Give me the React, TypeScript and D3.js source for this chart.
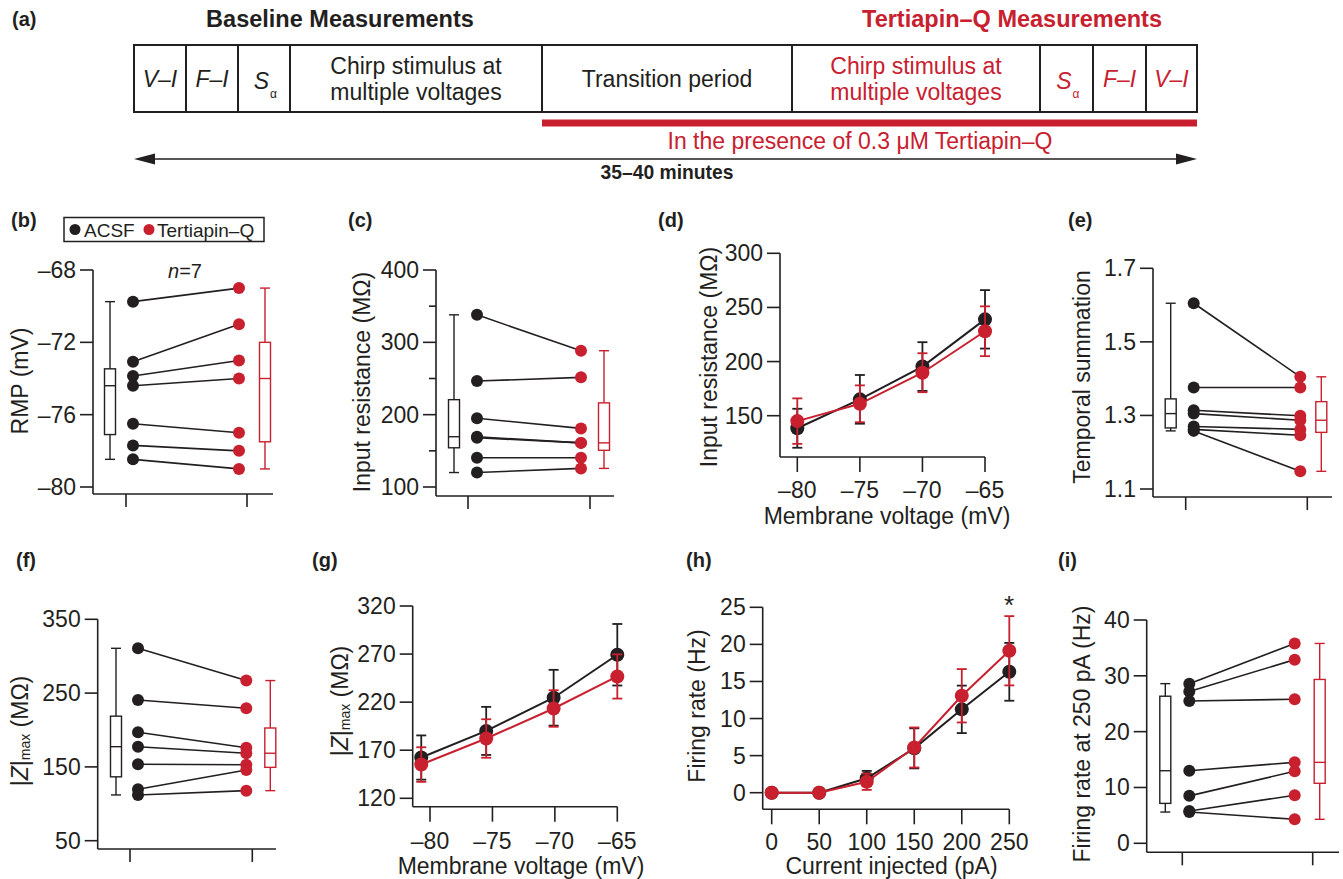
import React from 'react';
import * as d3 from 'd3';

const INK = '#231f20';
const RED = '#c8202f';
const FONT = '"Liberation Sans", Arial, Helvetica, sans-serif';

// ---------- (a) protocol ----------
const protocolSteps = ['V–I', 'F–I', 'S_α', 'Chirp stimulus at|multiple voltages', 'Transition period', 'Chirp stimulus at|multiple voltages', 'S_α', 'F–I', 'V–I'];
const drugStepStart = 5;

// ---------- paired data (7 cells) ----------
const rmpAcsf = [-69.75, -73.07, -73.86, -74.4, -76.5, -77.7, -78.47];
const rmpTq = [-69.0, -71.0, -73.0, -74.0, -77.0, -78.0, -79.0];
const rinAcsf = [338, 246.5, 195, 169.5, 168, 140.4, 120];
const rinTq = [288.4, 251.6, 181, 161, 161, 140.4, 125.7];
const tsAcsf = [1.605, 1.376, 1.314, 1.305, 1.27, 1.262, 1.258];
const tsTq = [1.405, 1.376, 1.299, 1.287, 1.262, 1.246, 1.148];
const zmaxAcsf = [310.7, 240.6, 196.9, 177.4, 153.5, 119.6, 112];
const zmaxTq = [267, 229.4, 176, 168.5, 153, 145.8, 117.8];
const fr250Acsf = [28.6, 27.2, 25.5, 13.0, 8.5, 5.8, 5.6];
const fr250Tq = [35.8, 32.9, 25.8, 14.5, 12.9, 8.6, 4.3];

// ---------- mean +/- sem data ----------
const vSteps = [-80, -75, -70, -65];
const rinVAcsfMean = [138.4, 165.1, 195.4, 239];
const rinVAcsfSem = [18, 22.5, 22.5, 27];
const rinVTqMean = [145, 161, 189.7, 228];
const rinVTqSem = [21, 17, 18, 23];

const zmaxV = [-80.7, -75.5, -70.1, -65];
const zmaxVAcsfMean = [162.4, 190.1, 224.6, 269.3];
const zmaxVAcsfSem = [23, 25, 29, 32];
const zmaxVTqMean = [155.1, 182.2, 213.4, 246.7];
const zmaxVTqSem = [18, 20, 19, 23];

const currentSteps = [0, 50, 100, 150, 200, 250];
const fiAcsfMean = [0, 0, 1.94, 5.98, 11.24, 16.3];
const fiAcsfSem = [0, 0, 1.0, 2.7, 3.2, 3.9];
const fiTqMean = [0, 0, 1.48, 6.1, 13.07, 19.14];
const fiTqSem = [0, 0, 1.1, 2.7, 3.6, 4.67];

const conditions = ['ACSF', 'Tertiapin–Q'];

// tick values
const rmpTicks = [-80, -76, -72, -68];
const rinTicks = [100, 200, 300, 400];
const rinMinor = [150, 250, 350];
const tsTicks = [1.1, 1.3, 1.5, 1.7];
const zmaxTicks = [50, 150, 250, 350];
const fr250Ticks = [0, 10, 20, 30, 40];
const rinVTicks = [150, 200, 250, 300];
const zmaxVTicks = [120, 170, 220, 270, 320];
const fiTicks = [0, 5, 10, 15, 20, 25];

const FS = 23;
const dash = (v: number) => String(v).replace('-', '–');
const fix1 = (v: number) => v.toFixed(1);

function boxStats(v: number[]) {
  const s = [...v].sort(d3.ascending);
  return {
    min: s[0],
    q1: d3.quantile(s, 0.25) as number,
    med: d3.quantile(s, 0.5) as number,
    q3: d3.quantile(s, 0.75) as number,
    max: s[s.length - 1],
  };
}

function BoxPlot({ values, cx, y, color }: any) {
  const st = boxStats(values);
  return (
    <g stroke={color} strokeWidth={1.4}>
      <line x1={cx} x2={cx} y1={y(st.max)} y2={y(st.min)} />
      <line x1={cx - 5} x2={cx + 5} y1={y(st.max)} y2={y(st.max)} />
      <line x1={cx - 5} x2={cx + 5} y1={y(st.min)} y2={y(st.min)} />
      <rect x={cx - 5.5} width={11} y={y(st.q3)} height={y(st.q1) - y(st.q3)} fill="white" />
      <line x1={cx - 5.5} x2={cx + 5.5} y1={y(st.med)} y2={y(st.med)} />
    </g>
  );
}

function YLabel({ x, y, children }: any) {
  return (
    <text transform={`translate(${x},${y}) rotate(-90)`} textAnchor="middle" dominantBaseline="central" fontSize={FS} fill={INK}>
      {children}
    </text>
  );
}

function YAxis({ y, x, top, bottom, ticks, minor = [], fmt }: any) {
  return (
    <g>
      <line x1={x} x2={x} y1={top} y2={bottom} stroke={INK} strokeWidth={1.6} />
      {ticks.map((t: number) => (
        <g key={t}>
          <line x1={x - 13} x2={x} y1={y(t)} y2={y(t)} stroke={INK} strokeWidth={1.6} />
          <text x={x - 17} y={y(t)} textAnchor="end" dominantBaseline="central" fontSize={FS} fill={INK}>{fmt(t)}</text>
        </g>
      ))}
      {minor.map((t: number) => (
        <line key={'m' + t} x1={x - 7} x2={x} y1={y(t)} y2={y(t)} stroke={INK} strokeWidth={1.6} />
      ))}
    </g>
  );
}

function PairedPanel(p: any) {
  const y = d3.scaleLinear().domain(p.yDomain).range(p.yRange);
  const x = d3.scalePoint<string>().domain(conditions).range(p.catX);
  const x0 = x(conditions[0]) as number;
  const x1 = x(conditions[1]) as number;
  const [bOff, dOff, rdOff, rbOff] = p.offs;
  return (
    <g>
      <YAxis y={y} x={p.axisX} top={y(p.ticks[p.ticks.length - 1])} bottom={p.axisBottom} ticks={p.ticks} minor={p.minor} fmt={p.fmt} />
      <line x1={p.axisX} x2={p.axisRight} y1={p.axisBottom} y2={p.axisBottom} stroke={INK} strokeWidth={1.6} />
      {[x0, x1].map((cx, i) => (
        <line key={i} x1={cx} x2={cx} y1={p.axisBottom} y2={p.axisBottom + 13} stroke={INK} strokeWidth={1.6} />
      ))}
      <BoxPlot values={p.acsf} cx={x0 + bOff} y={y} color={INK} />
      <BoxPlot values={p.tq} cx={x1 + rbOff} y={y} color={RED} />
      {p.acsf.map((v: number, i: number) => (
        <line key={'l' + i} x1={x0 + dOff} x2={x1 + rdOff} y1={y(v)} y2={y(p.tq[i])} stroke={INK} strokeWidth={1.6} />
      ))}
      {p.acsf.map((v: number, i: number) => (
        <circle key={'a' + i} cx={x0 + dOff} cy={y(v)} r={6} fill={INK} />
      ))}
      {p.tq.map((v: number, i: number) => (
        <circle key={'t' + i} cx={x1 + rdOff} cy={y(v)} r={6} fill={RED} />
      ))}
      <YLabel x={p.labelPos[0]} y={p.labelPos[1]}>{p.label}</YLabel>
    </g>
  );
}

function LinePanel(p: any) {
  const y = d3.scaleLinear().domain(p.yDomain).range(p.yRange);
  const x = d3.scaleLinear().domain(p.xDomain).range(p.xRange);
  const line = d3.line<number>().x((_, i) => x(p.xs[i])).y((d) => y(d));
  return (
    <g>
      <YAxis y={y} x={p.axisX} top={y(p.yTicks[p.yTicks.length - 1])} bottom={p.axisBottom} ticks={p.yTicks} fmt={String} />
      <line x1={p.axisX} x2={x(p.xTicks[p.xTicks.length - 1])} y1={p.axisBottom} y2={p.axisBottom} stroke={INK} strokeWidth={1.6} />
      {p.xTicks.map((t: number) => (
        <g key={t}>
          <line x1={x(t)} x2={x(t)} y1={p.axisBottom} y2={p.axisBottom + 15} stroke={INK} strokeWidth={1.6} />
          <text x={x(t)} y={p.tickLabelY} textAnchor="middle" fontSize={FS} fill={INK}>{dash(t)}</text>
        </g>
      ))}
      <text x={p.xLabelPos[0]} y={p.xLabelPos[1]} textAnchor="middle" fontSize={FS} fill={INK}>{p.xLabel}</text>
      {p.series.map((s: any, si: number) => (
        <g key={si}>
          <path d={line(s.mean) as string} fill="none" stroke={s.color} strokeWidth={2} />
          {s.mean.map((m: number, i: number) =>
            s.sem[i] > 0 ? (
              <g key={i} stroke={s.color} strokeWidth={1.8}>
                <line x1={x(p.xs[i])} x2={x(p.xs[i])} y1={y(m + s.sem[i])} y2={y(m - s.sem[i])} />
                <line x1={x(p.xs[i]) - 5} x2={x(p.xs[i]) + 5} y1={y(m + s.sem[i])} y2={y(m + s.sem[i])} />
                <line x1={x(p.xs[i]) - 5} x2={x(p.xs[i]) + 5} y1={y(m - s.sem[i])} y2={y(m - s.sem[i])} />
              </g>
            ) : null
          )}
          {s.mean.map((m: number, i: number) => (
            <circle key={'c' + i} cx={x(p.xs[i])} cy={y(m)} r={7} fill={s.color} />
          ))}
        </g>
      ))}
      <YLabel x={p.labelPos[0]} y={p.labelPos[1]}>{p.yLabel}</YLabel>
    </g>
  );
}

const zLabel = (
  <>
    |<tspan fontStyle="italic">Z</tspan>|<tspan fontSize={14} dy={5}>max</tspan>
    <tspan dy={-5}> (MΩ)</tspan>
  </>
);

function ProtocolPanel() {
  const edges = [134, 186, 238, 290, 542, 792, 1040, 1093, 1146, 1197];
  const top = 45;
  const bottom = 112;
  return (
    <g>
      <text x={12} y={26} fontSize={20} fontWeight="bold" fill={INK}>(a)</text>
      <text x={340} y={27} fontSize={23.5} fontWeight="bold" textAnchor="middle" fill={INK}>Baseline Measurements</text>
      <text x={1012} y={27} fontSize={23.5} fontWeight="bold" textAnchor="middle" fill={RED}>Tertiapin–Q Measurements</text>
      <rect x={edges[0]} y={top} width={edges[edges.length - 1] - edges[0]} height={bottom - top} fill="none" stroke={INK} strokeWidth={2} />
      {edges.slice(1, -1).map((e) => (
        <line key={e} x1={e} x2={e} y1={top} y2={bottom} stroke={INK} strokeWidth={2} />
      ))}
      {protocolSteps.map((s, i) => {
        const cx = (edges[i] + edges[i + 1]) / 2;
        const color = i >= drugStepStart ? RED : INK;
        if (s === 'S_α') {
          return (
            <g key={i} fill={color}>
              <text x={cx - 2.5} y={89} fontSize={FS} fontStyle="italic" textAnchor="middle">S</text>
              <text x={cx + 9.5} y={98} fontSize={12} textAnchor="middle">α</text>
            </g>
          );
        }
        if (s.includes('|')) {
          const [l1, l2] = s.split('|');
          return (
            <g key={i} fill={color} fontSize={FS}>
              <text x={cx} y={74} textAnchor="middle">{l1}</text>
              <text x={cx} y={100} textAnchor="middle">{l2}</text>
            </g>
          );
        }
        const italic = s.includes('–');
        return (
          <text key={i} x={cx} y={87} fontSize={FS} textAnchor="middle" fill={color} fontStyle={italic ? 'italic' : 'normal'}>{s}</text>
        );
      })}
      <rect x={edges[4]} y={119.5} width={edges[edges.length - 1] - edges[4]} height={7} fill={RED} />
      <text x={860} y={149} fontSize={FS} textAnchor="middle" fill={RED}>In the presence of 0.3 μM Tertiapin–Q</text>
      <line x1={edges[0] + 15} x2={edges[edges.length - 1] - 15} y1={159} y2={159} stroke={INK} strokeWidth={1.6} />
      <polygon points={`${edges[0]},159 ${edges[0] + 21},153.5 ${edges[0] + 21},164.5`} fill={INK} />
      <polygon points={`${edges[9]},159 ${edges[9] - 21},153.5 ${edges[9] - 21},164.5`} fill={INK} />
      <text x={667} y={179} fontSize={19.3} fontWeight="bold" textAnchor="middle" fill={INK}>35–40 minutes</text>
    </g>
  );
}

export default function App() {
  return (
    <div style={{ position: 'absolute', left: 0, top: 0, background: 'white' }}>
      <svg width={1343} height={879} style={{ display: 'block', fontFamily: FONT }}>
        <rect width={1343} height={879} fill="white" />
        <ProtocolPanel />

        {/* (b) */}
        <text x={11} y={227} fontSize={20} fontWeight="bold" fill={INK}>(b)</text>
        <rect x={64} y={217.5} width={200} height={24} fill="none" stroke={INK} strokeWidth={1.5} />
        <circle cx={75} cy={229.5} r={5.5} fill={INK} />
        <text x={84} y={236.5} fontSize={19} fill={INK}>{conditions[0]}</text>
        <circle cx={149} cy={229.5} r={5.5} fill={RED} />
        <text x={157} y={236.5} fontSize={19} fill={INK}>{conditions[1]}</text>
        <text x={185} y={278} fontSize={20} textAnchor="middle" fill={INK}><tspan fontStyle="italic">n</tspan>=7</text>
        <PairedPanel acsf={rmpAcsf} tq={rmpTq} yDomain={[-80, -68]} yRange={[487, 270]} axisX={93} axisBottom={494} axisRight={273}
          catX={[126, 247]} offs={[-16, 7, -8, 18]} ticks={rmpTicks} fmt={dash} label="RMP (mV)" labelPos={[20, 381]} />

        {/* (c) */}
        <text x={348} y={227} fontSize={20} fontWeight="bold" fill={INK}>(c)</text>
        <PairedPanel acsf={rinAcsf} tq={rinTq} yDomain={[100, 400]} yRange={[487, 270]} axisX={436} axisBottom={496} axisRight={614}
          catX={[468, 590]} offs={[-14, 9, -9, 14]} ticks={rinTicks} minor={rinMinor} fmt={String} label="Input resistance (MΩ)" labelPos={[362, 382]} />

        {/* (d) */}
        <text x={658} y={227} fontSize={20} fontWeight="bold" fill={INK}>(d)</text>
        <LinePanel xs={vSteps} xDomain={[-80, -65]} xRange={[797.3, 985]} yDomain={[150, 300]} yRange={[415.7, 253.3]}
          axisX={780} axisBottom={457} xTicks={vSteps} yTicks={rinVTicks} tickLabelY={498} xLabel="Membrane voltage (mV)" xLabelPos={[887, 524]}
          yLabel="Input resistance (MΩ)" labelPos={[709, 357]}
          series={[{ mean: rinVAcsfMean, sem: rinVAcsfSem, color: INK }, { mean: rinVTqMean, sem: rinVTqSem, color: RED }]} />

        {/* (e) */}
        <text x={1068} y={227} fontSize={20} fontWeight="bold" fill={INK}>(e)</text>
        <PairedPanel acsf={tsAcsf} tq={tsTq} yDomain={[1.1, 1.7]} yRange={[489, 268.3]} axisX={1153} axisBottom={497} axisRight={1332}
          catX={[1185.7, 1307.3]} offs={[-15, 8, -7, 14]} ticks={tsTicks} fmt={fix1} label="Temporal summation" labelPos={[1082, 377]} />

        {/* (f) */}
        <text x={16} y={567} fontSize={20} fontWeight="bold" fill={INK}>(f)</text>
        <PairedPanel acsf={zmaxAcsf} tq={zmaxTq} yDomain={[50, 350]} yRange={[840.7, 619.3]} axisX={97.7} axisBottom={849} axisRight={276}
          catX={[130, 252.3]} offs={[-14, 8, -6, 18]} ticks={zmaxTicks} fmt={String} label={zLabel} labelPos={[20, 731]} />

        {/* (g) */}
        <text x={312} y={567} fontSize={20} fontWeight="bold" fill={INK}>(g)</text>
        <LinePanel xs={zmaxV} xDomain={[-80, -65]} xRange={[430, 617.3]} yDomain={[120, 320]} yRange={[798.3, 606]}
          axisX={412.7} axisBottom={806.7} xTicks={vSteps} yTicks={zmaxVTicks} tickLabelY={849} xLabel="Membrane voltage (mV)" xLabelPos={[521, 874]}
          yLabel={zLabel} labelPos={[340, 701]}
          series={[{ mean: zmaxVAcsfMean, sem: zmaxVAcsfSem, color: INK }, { mean: zmaxVTqMean, sem: zmaxVTqSem, color: RED }]} />

        {/* (h) */}
        <text x={686} y={567} fontSize={20} fontWeight="bold" fill={INK}>(h)</text>
        <LinePanel xs={currentSteps} xDomain={[0, 250]} xRange={[771.7, 1009.3]} yDomain={[0, 25]} yRange={[792.7, 607.3]}
          axisX={762.7} axisBottom={809.3} xTicks={currentSteps} yTicks={fiTicks} tickLabelY={850} xLabel="Current injected (pA)" xLabelPos={[891.5, 874]}
          yLabel="Firing rate (Hz)" labelPos={[697, 706]}
          series={[{ mean: fiAcsfMean, sem: fiAcsfSem, color: INK }, { mean: fiTqMean, sem: fiTqSem, color: RED }]} />
        <text x={1009} y={614} fontSize={26} textAnchor="middle" fill={INK}>*</text>

        {/* (i) */}
        <text x={1058} y={567} fontSize={20} fontWeight="bold" fill={INK}>(i)</text>
        <PairedPanel acsf={fr250Acsf} tq={fr250Tq} yDomain={[0, 40]} yRange={[843.3, 620]} axisX={1146.7} axisBottom={852.3} axisRight={1339}
          catX={[1182.3, 1312.7]} offs={[-17, 7, -18, 7]} ticks={fr250Ticks} fmt={String} label="Firing rate at 250 pA (Hz)" labelPos={[1082, 734]} />
      </svg>
    </div>
  );
}
